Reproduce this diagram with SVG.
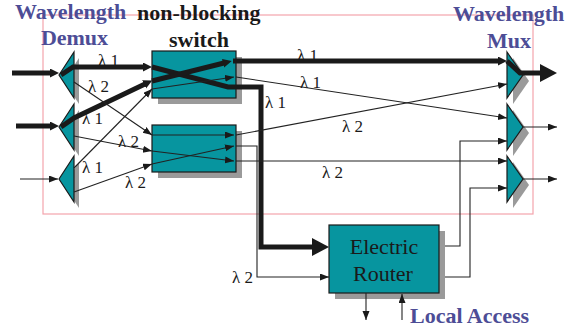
<svg xmlns="http://www.w3.org/2000/svg" width="566" height="331" viewBox="0 0 566 331">
<style>
.frame{fill:none;stroke:#f4a4ac;stroke-width:1.2}
.sh{fill:#9a9a9a;stroke:none}
.box{fill:#07959f;stroke:#1a1a1a;stroke-width:1.2}
.thin{fill:none;stroke:#222;stroke-width:1.1}
.thick{fill:none;stroke:#1a1a1a;stroke-width:5;stroke-linejoin:miter}
.hd{font-family:"Liberation Serif","Times New Roman",serif;font-weight:bold;font-size:22px;fill:#4d4d96}
.bk{font-family:"Liberation Serif","Times New Roman",serif;font-weight:bold;font-size:22px;fill:#1a1a1a}
.lam{font-family:"Liberation Serif","Times New Roman",serif;font-size:17px;fill:#1a1a1a}
.rt{font-family:"Liberation Serif","Times New Roman",serif;font-size:22px;fill:#1a1a1a;text-anchor:middle}
</style>
<defs>
<marker id="a" markerUnits="userSpaceOnUse" markerWidth="10" markerHeight="8" refX="9" refY="3.5" orient="auto"><path d="M0,0 L9,3.5 L0,7 z" fill="#1a1a1a"/></marker>
<marker id="am" markerUnits="userSpaceOnUse" markerWidth="10" markerHeight="10" refX="1" refY="4.5" orient="auto"><path d="M0,0 L9,4.5 L0,9 z" fill="#1a1a1a"/></marker>
<marker id="ab" markerUnits="userSpaceOnUse" markerWidth="18" markerHeight="18" refX="0" refY="9" orient="auto"><path d="M0,0 L17,9 L0,18 z" fill="#1a1a1a"/></marker>
</defs>
<rect class="frame" x="43" y="15" width="490" height="199"/>

<g id="demux1"><polygon class="sh" points="64,81 79,58 79,104"/><polygon class="box" points="59,75 74,52 74,98"/></g>
<g id="demux2"><polygon class="sh" points="64,133 79,110 79,156"/><polygon class="box" points="59,127 74,104 74,150"/></g>
<g id="demux3"><polygon class="sh" points="64,185 79,162 79,208"/><polygon class="box" points="59,179 74,156 74,202"/></g>
<g id="mux1"><polygon class="sh" points="513,58 529,81 513,104"/><polygon class="box" points="507,52 523,75 507,98"/></g>
<g id="mux2"><polygon class="sh" points="513,110 529,133 513,156"/><polygon class="box" points="507,104 523,127 507,150"/></g>
<g id="mux3"><polygon class="sh" points="513,162 529,185 513,208"/><polygon class="box" points="507,156 523,179 507,202"/></g>
<g id="switch1"><rect class="sh" x="158" y="57" width="84" height="47"/><rect class="box" x="152" y="51" width="84" height="47"/></g>
<g id="switch2"><rect class="sh" x="158" y="131" width="84" height="47"/><rect class="box" x="152" y="125" width="84" height="47"/></g>
<g id="router"><rect class="sh" x="335" y="231" width="110" height="68"/><rect class="box" x="329" y="225" width="110" height="68"/>
<text class="rt" x="384" y="254">Electric</text><text class="rt" x="383" y="281">Router</text></g>

<g id="connectors">
<path class="thick" d="M12,73 L51,73" marker-end="url(#am)"/>
<path class="thick" d="M16,126 L51,126" marker-end="url(#am)"/>
<path class="thin" d="M20,179 L58,179" marker-end="url(#a)"/>
<path class="thick" d="M61,75 L73,67 L144,67" marker-end="url(#am)"/>
<path class="thick" d="M152,67 L228,87 L261,87 L261,247 L312,247" marker-end="url(#ab)"/>
<path class="thick" d="M61,127 L74,118 L145,84" marker-end="url(#am)"/>
<path class="thick" d="M152,81 L224,63" marker-end="url(#am)"/>
<path class="thick" d="M233,61 L499,61" marker-end="url(#am)"/>
<path class="thick" d="M507,61 L520,73 L540,73" marker-end="url(#ab)"/>
<path class="thin" d="M74,82 L152,135" marker-end="url(#a)"/>
<path class="thin" d="M74,136 L152,151" marker-end="url(#a)"/>
<path class="thin" d="M74,168 L152,89" marker-end="url(#a)"/>
<path class="thin" d="M74,192 L152,164" marker-end="url(#a)"/>
<path class="thin" d="M152,89 L234,77" marker-end="url(#a)"/>
<path class="thin" d="M152,135 L234,135" marker-end="url(#a)"/>
<path class="thin" d="M152,151 L234,161" marker-end="url(#a)"/>
<path class="thin" d="M152,164 L234,146" marker-end="url(#a)"/>
<path class="thin" d="M236,77 L507,118" marker-end="url(#a)"/>
<path class="thin" d="M236,135 L507,84" marker-end="url(#a)"/>
<path class="thin" d="M236,161 L507,161" marker-end="url(#a)"/>
<path class="thin" d="M236,146 L257,146 L257,277 L329,277" marker-end="url(#a)"/>
<path class="thin" d="M445,246 L460,246 L460,141 L507,141" marker-end="url(#a)"/>
<path class="thin" d="M445,277 L470,277 L470,188 L507,188" marker-end="url(#a)"/>
<path class="thin" d="M523,127 L557,127" marker-end="url(#a)"/>
<path class="thin" d="M523,179 L557,179" marker-end="url(#a)"/>
<path class="thin" d="M366,293 L366,320" marker-end="url(#a)"/>
<path class="thin" d="M402,320 L402,294" marker-end="url(#a)"/>
<text class="lam" x="98" y="66">λ 1</text>
<text class="lam" x="88" y="92">λ 2</text>
<text class="lam" x="82" y="124">λ 1</text>
<text class="lam" x="118" y="147">λ 2</text>
<text class="lam" x="82" y="173">λ 1</text>
<text class="lam" x="125" y="188">λ 2</text>
<text class="lam" x="297" y="61">λ 1</text>
<text class="lam" x="300" y="88">λ 1</text>
<text class="lam" x="265" y="108">λ 1</text>
<text class="lam" x="342" y="132">λ 2</text>
<text class="lam" x="322" y="178">λ 2</text>
<text class="lam" x="232" y="283">λ 2</text>
</g>

<text class="hd" x="15" y="19">Wavelength</text>
<text class="hd" x="74.5" y="45" text-anchor="middle">Demux</text>
<text class="bk" x="137" y="20">non-blocking</text>
<text class="bk" x="199" y="47" text-anchor="middle">switch</text>
<text class="hd" x="453" y="21">Wavelength</text>
<text class="hd" x="509" y="48" text-anchor="middle">Mux</text>
<text class="hd" x="410" y="323">Local Access</text>
</svg>
